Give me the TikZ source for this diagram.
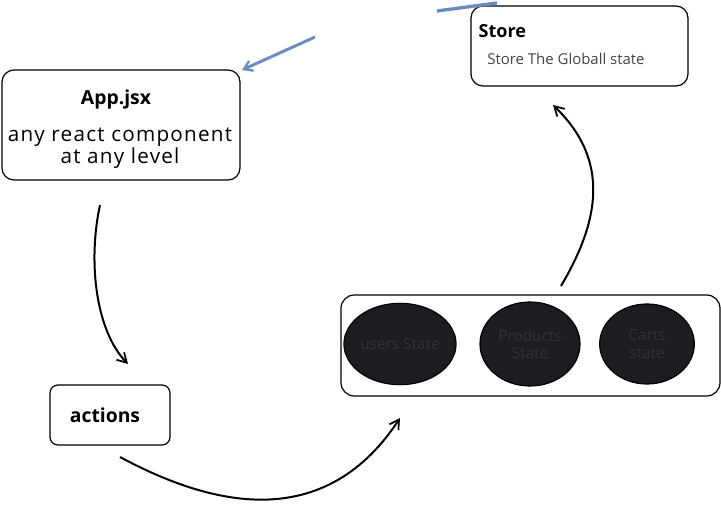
\documentclass[tikz,border=0pt]{standalone}
\usepackage{fontspec}
\setmainfont{Open Sans}
\newfontfamily\widefont[LetterSpace=6]{Open Sans}
\usetikzlibrary{arrows.meta,shapes.geometric}
\definecolor{blobfill}{HTML}{1E1B22}
\definecolor{blobtext}{HTML}{34313A}
\definecolor{linkblue}{HTML}{6A8CC0}
\definecolor{subgray}{HTML}{444444}
\tikzset{
  box/.style={draw=black, line width=0.9pt, rounded corners=9pt},
  blob/.style={ellipse, draw=black, line width=0.9pt, fill=blobfill, text=blobtext, align=center, font=\fontsize{11.5}{13}\selectfont, inner sep=0pt},
  flow/.style={line width=1.5pt, -{Straight Barb[length=7pt,width=8pt,line width=1.3pt]}},
  title/.style={font=\bfseries\fontsize{14.5}{16}\selectfont},
}
\begin{document}
\begin{tikzpicture}[x=0.75pt,y=-0.75pt]
\useasboundingbox (0,0) rectangle (721,513);
% App box
\draw[box] (2,70) rectangle (240,180);
\node[title] (apptitle) at (116,99) {App.jsx};
\node[font=\widefont\fontsize{15.5}{15}\selectfont, align=center, inner sep=0pt] (app) at (120,148) {any react component\\at any level};
% Store box
\draw[box] (471,6) rectangle (688,86);
\node[title, anchor=west, font=\bfseries\fontsize{13.5}{15}\selectfont] (storetitle) at (474,31) {Store};
\node[font=\fontsize{11.2}{12}\selectfont, text=subgray] (store) at (566,59) {Store The Globall state};
% actions
\draw[box, rounded corners=6pt] (50,385) rectangle (170,445);
\node[title] (actions) at (105,415) {actions};
% container
\draw[box, rounded corners=10pt] (341,295) rectangle (720,396);
\node[blob, minimum width=73pt, minimum height=61pt] (users) at (400,344) {users State};
\node[blob, minimum width=75pt, minimum height=63pt] (products) at (530,344) {Products\\State};
\node[blob, minimum width=71pt, minimum height=60pt] (carts) at (647,344) {Carts\\state};
% connector ends
\coordinate (a1) at (100,205);
\coordinate (a2) at (128,364);
\coordinate (b1) at (120,457);
\coordinate (b2) at (400,418);
\coordinate (c1) at (561,286);
\coordinate (c2) at (553,105);
\coordinate (d1) at (315,37);
\coordinate (d2) at (242,70);
\coordinate (e1) at (437,11);
\coordinate (e2) at (497,3);
\draw[flow] (a1) .. controls (88,260) and (95,330) .. (a2);
\draw[flow] (b1) .. controls (200,500) and (320,540) .. (b2);
\draw[flow] (c1) .. controls (600,220) and (610,160) .. (c2);
\draw[linkblue, line width=2.2pt, -{Straight Barb[length=6pt,width=8pt,line width=1.8pt]}] (d1) -- (d2);
\draw[linkblue, line width=2.5pt] (e1) -- (e2);
\end{tikzpicture}
\end{document}
